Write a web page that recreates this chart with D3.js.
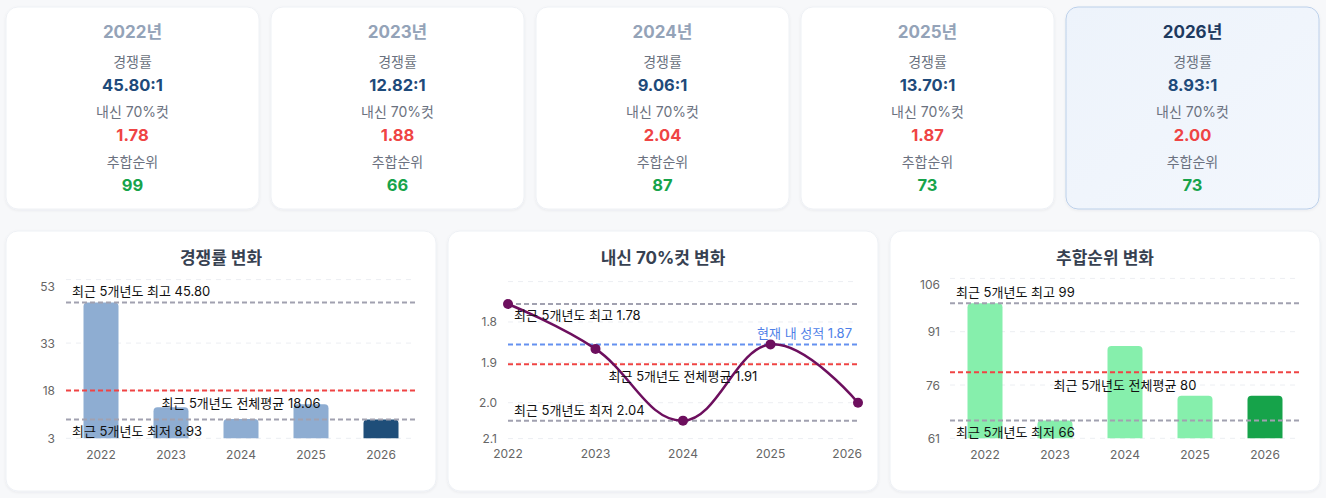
<!DOCTYPE html>
<html><head><meta charset="utf-8">
<script src="https://cdn.jsdelivr.net/npm/d3@7"></script>
<style>
html,body{margin:0;padding:0;background:#f7f8fa;}
svg{display:block;font-family:Inter,"Noto Sans CJK KR","Noto Sans",sans-serif;}
</style></head>
<body>
<script>
// ---------------- data ----------------
const years = ["2022", "2023", "2024", "2025", "2026"];
const competition = [45.80, 12.82, 9.06, 13.70, 8.93];
const gradeCut = [1.78, 1.88, 2.04, 1.87, 2.00];
const ranks = [99, 66, 87, 73, 73];
const myGrade = 1.87;
const compTicks = [3, 18, 33, 53];
const compDomain = [3, 53];
const gradeTicks = [1.73, 1.82, 1.91, 2.00, 2.08];
const gradeTickLabels = ["", "1.8", "1.9", "2.0", "2.1"];
const gradeDomain = [1.73, 2.08];
const rankTicks = [61, 76, 91, 106];
const rankDomain = [61, 106];
const cardLabels = ["경쟁률", "내신 70%컷", "추합순위"];
const chartTitles = ["경쟁률 변화", "내신 70%컷 변화", "추합순위 변화"];

// ---------------- setup ----------------
const W = 1326, H = 498;
const svg = d3.select("body").append("svg").attr("width", W).attr("height", H);
const defs = svg.append("defs");
const f = defs.append("filter").attr("id", "sh").attr("x", "-10%").attr("y", "-10%").attr("width", "120%").attr("height", "130%");
f.append("feDropShadow").attr("dx", 0).attr("dy", 1).attr("stdDeviation", 1.5).attr("flood-color", "#1e293b").attr("flood-opacity", 0.06);
const lg = defs.append("linearGradient").attr("id", "curbg").attr("x1", 0).attr("y1", 0).attr("x2", 1).attr("y2", 1);
lg.append("stop").attr("offset", "0%").attr("stop-color", "#edf3fb");
lg.append("stop").attr("offset", "100%").attr("stop-color", "#f3f7fd");

const cur = years.length - 1;

// ---------------- cards ----------------
const cardX = d3.scaleBand().domain(years).range([6, 1319]).paddingInner(12 / 265).paddingOuter(0);
const cards = svg.append("g").selectAll("g").data(years).join("g")
  .attr("transform", d => `translate(${cardX(d)},7)`);
cards.append("rect")
  .attr("width", cardX.bandwidth()).attr("height", 202).attr("rx", 12)
  .attr("fill", (d, i) => i === cur ? "url(#curbg)" : "#ffffff")
  .attr("stroke", (d, i) => i === cur ? "#bcd0ea" : "#eef1f5")
  .attr("stroke-width", 1)
  .attr("filter", "url(#sh)");
const cx = cardX.bandwidth() / 2;
cards.append("text").attr("x", cx).attr("y", 25).attr("text-anchor", "middle").attr("dominant-baseline", "central")
  .attr("font-size", 17).attr("font-weight", 700)
  .attr("fill", (d, i) => i === cur ? "#1e3a5f" : "#94a3b8")
  .text(d => d + "년");
const rowsY = [[54.5, 78], [104.5, 128], [154.5, 178]];
const valFmt = [
  i => competition[i].toFixed(2) + ":1",
  i => gradeCut[i].toFixed(2),
  i => String(ranks[i])
];
const valColor = ["#1e4a7a", "#ef4444", "#16a34a"];
rowsY.forEach((r, k) => {
  cards.append("text").attr("x", cx).attr("y", r[0]).attr("text-anchor", "middle").attr("dominant-baseline", "central")
    .attr("font-size", 14).attr("fill", "#6b7280").text(cardLabels[k]);
  cards.append("text").attr("x", cx).attr("y", r[1]).attr("text-anchor", "middle").attr("dominant-baseline", "central")
    .attr("font-size", 16.5).attr("font-weight", 700).attr("fill", valColor[k]).text((d, i) => valFmt[k](i));
});

// ---------------- panels ----------------
const panelX = d3.scaleBand().domain([0, 1, 2]).range([6, 1320]).paddingInner(12 / 442).paddingOuter(0);
const panels = svg.append("g").selectAll("g").data([0, 1, 2]).join("g");
panels.append("rect").attr("x", d => panelX(d)).attr("y", 231).attr("width", panelX.bandwidth()).attr("height", 260)
  .attr("rx", 12).attr("fill", "#fff").attr("stroke", "#eef1f5").attr("filter", "url(#sh)");
panels.append("text").attr("x", d => panelX(d) + panelX.bandwidth() / 2).attr("y", 258)
  .attr("text-anchor", "middle").attr("dominant-baseline", "central")
  .attr("font-size", 17).attr("font-weight", 700).attr("fill", "#374151").text(d => chartTitles[d]);

const grey = "#a1a1b0", red = "#ef4444", blue = "#6591f0";

function grid(g, x0, x1, y, ticks, labels, labelRight, topOffset) {
  g.append("g").selectAll("line").data(ticks).join("line")
    .attr("x1", x0).attr("x2", x1).attr("y1", d => y(d)).attr("y2", d => y(d))
    .attr("stroke", "#eceef2").attr("stroke-width", 1).attr("stroke-dasharray", "5,5");
  g.append("g").selectAll("text").data(ticks).join("text")
    .attr("x", labelRight).attr("y", (d, i) => y(d) + (i === ticks.length - 1 ? topOffset : 0))
    .attr("text-anchor", "end").attr("dominant-baseline", "central")
    .attr("font-size", 12).attr("fill", "#666").text((d, i) => labels[i]);
}
function hline(g, x0, x1, yv, color) {
  g.append("line").attr("x1", x0).attr("x2", x1).attr("y1", yv).attr("y2", yv)
    .attr("stroke", color).attr("stroke-width", 2).attr("stroke-dasharray", "5,3");
}
function label(g, x, y, txt, anchor, color) {
  g.append("text").attr("x", x).attr("y", y).attr("text-anchor", anchor).attr("dominant-baseline", "central")
    .attr("font-size", 13).attr("fill", color || "#111").text(txt);
}
function barPath(x, y0, w, y1, r) {
  const h = y0 - y1; r = Math.min(r, h, w / 2);
  return `M${x},${y0}V${y1 + r}Q${x},${y1} ${x + r},${y1}H${x + w - r}Q${x + w},${y1} ${x + w},${y1 + r}V${y0}Z`;
}

function barChart(idx, values, domain, ticks, yRange, colors, fmt, labelRight, avgFmt) {
  const g = svg.append("g");
  const px = panelX(idx);
  const x0 = px + 60, x1 = px + 410;
  const x = d3.scaleBand().domain(years).range([x0, x1]).paddingInner(0.5).paddingOuter(0.25);
  const y = d3.scaleLinear().domain(domain).range(yRange);
  grid(g, x0, x1, y, ticks, ticks.map(String), px + labelRight, 6.5);
  g.append("g").selectAll("path").data(values).join("path")
    .attr("d", (d, i) => barPath(x(years[i]), y(domain[0]), x.bandwidth(), y(d), 4))
    .attr("fill", (d, i) => i === cur ? colors[1] : colors[0]);
  g.append("g").selectAll("text").data(years).join("text")
    .attr("x", d => x(d) + x.bandwidth() / 2).attr("y", 454).attr("text-anchor", "middle").attr("dominant-baseline", "central")
    .attr("font-size", 12).attr("fill", "#666").text(d => d);
  const mx = d3.max(values), mn = d3.min(values), av = d3.mean(values);
  hline(g, x0, x1, y(mx), grey);
  hline(g, x0, x1, y(mn), grey);
  hline(g, x0, x1, y(av), red);
  label(g, x0 + 6, y(mx) - 11, "최근 5개년도 최고 " + fmt(mx), "start");
  label(g, x0 + 6, y(mn) + 11.5, "최근 5개년도 최저 " + fmt(mn), "start");
  label(g, (x0 + x1) / 2, y(av) + 12.5, "최근 5개년도 전체평균 " + avgFmt(av), "middle");
}

barChart(0, competition, compDomain, compTicks, [438.3, 279.6], ["#8eadd2", "#1f4e79"],
  v => v.toFixed(2), 49, v => v.toFixed(2));
barChart(2, ranks, rankDomain, rankTicks, [438.3, 278.4], ["#86efac", "#16a34a"],
  v => String(v), 50, v => String(Math.round(v)));

// ---------------- line chart ----------------
(function () {
  const g = svg.append("g");
  const px = panelX(1);
  const x0 = px + 60, x1 = px + 410;
  const x = d3.scalePoint().domain(years).range([x0, x1]);
  const y = d3.scaleLinear().domain(gradeDomain).range([281.6, 438.6]);
  grid(g, x0, x1, y, gradeTicks, gradeTickLabels, px + 49, 0);
  g.append("g").selectAll("text").data(years).join("text")
    .attr("x", (d, i) => i === years.length - 1 ? x(d) + 4 : x(d))
    .attr("y", 453).attr("text-anchor", (d, i) => i === years.length - 1 ? "end" : "middle")
    .attr("dominant-baseline", "central").attr("font-size", 12).attr("fill", "#666").text(d => d);
  const best = d3.min(gradeCut), worst = d3.max(gradeCut), av = d3.mean(gradeCut);
  hline(g, x0, x1, y(best), grey);
  hline(g, x0, x1, y(worst), grey);
  hline(g, x0, x1, y(av), red);
  hline(g, x0, x1, y(myGrade), blue);
  const line = d3.line().x((d, i) => x(years[i])).y(d => y(d)).curve(d3.curveCardinal.tension(-0.2));
  g.append("path").attr("d", line(gradeCut)).attr("fill", "none").attr("stroke", "#6d0f5e").attr("stroke-width", 2.5);
  g.append("g").selectAll("circle").data(gradeCut).join("circle")
    .attr("cx", (d, i) => x(years[i])).attr("cy", d => y(d)).attr("r", 5).attr("fill", "#6d0f5e");
  label(g, x0 + 6, y(best) + 11, "최근 5개년도 최고 " + best.toFixed(2), "start");
  label(g, x0 + 6, y(worst) - 11, "최근 5개년도 최저 " + worst.toFixed(2), "start");
  label(g, (x0 + x1) / 2, y(av) + 12, "최근 5개년도 전체평균 " + av.toFixed(2), "middle");
  label(g, x1 - 6, y(myGrade) - 11.5, "현재 내 성적 " + myGrade.toFixed(2), "end", "#4f7fe8");
})();
</script>
</body></html>
